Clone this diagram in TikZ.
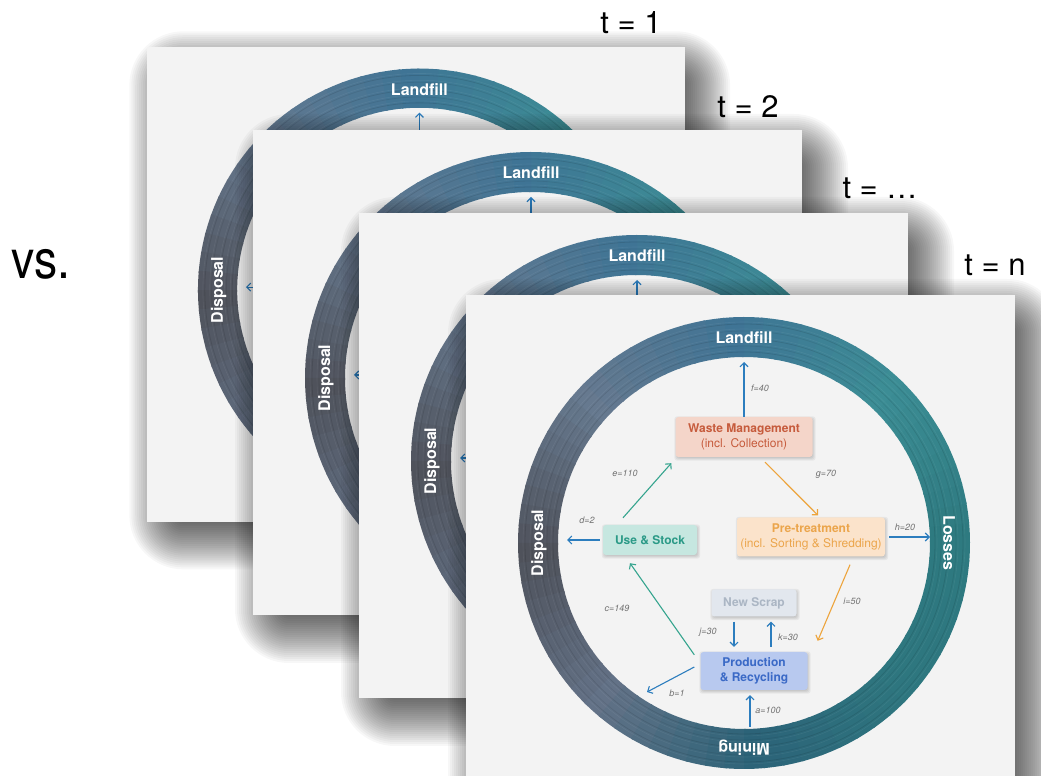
\documentclass[tikz,border=0pt]{standalone}
\usepackage{fontspec}
\usepackage{graphicx}
\setmainfont{TeX Gyre Heros}
\usetikzlibrary{arrows.meta}

\definecolor{panelbg}{HTML}{F3F3F3}
\definecolor{flowblue}{HTML}{2C7DBE}
\definecolor{flowteal}{HTML}{35A48E}
\definecolor{floworange}{HTML}{EDA43C}
\definecolor{lblgray}{HTML}{707070}
\definecolor{wmfill}{HTML}{F4D5C9}
\definecolor{wmtext}{HTML}{C65B3C}
\definecolor{ptfill}{HTML}{FBE3CB}
\definecolor{pttext}{HTML}{EBA54B}
\definecolor{usfill}{HTML}{C6E7E0}
\definecolor{ustext}{HTML}{2B9A87}
\definecolor{nsfill}{HTML}{E2E7EE}
\definecolor{nstext}{HTML}{ABB6C4}
\definecolor{prfill}{HTML}{B8C9EF}
\definecolor{prtext}{HTML}{3A69C6}
% ring tones, counter-clockwise from the right
\definecolor{ringA}{HTML}{2E7A80}
\definecolor{ringB}{HTML}{3C8D95}
\definecolor{ringC}{HTML}{3F7495}
\definecolor{ringD}{HTML}{66798F}
\definecolor{ringE}{HTML}{4F525B}
\definecolor{ringF}{HTML}{637287}
\definecolor{ringG}{HTML}{2C6378}
\definecolor{ringH}{HTML}{2E767F}

\tikzset{
  x=1pt, y=1pt,
  flowbox/.style={rounded corners=3pt, align=center, inner sep=2pt,
      font=\fontsize{12}{15}\selectfont},
  flow/.style={line width=1.1pt, -{Straight Barb[length=4pt,width=8pt]}},
  qty/.style={font=\fontsize{9}{10}\selectfont\itshape, text=lblgray, inner sep=0pt},
  ringlabel/.style={text=white, font=\fontsize{16}{18}\selectfont\bfseries, inner sep=0pt},
  tlabel/.style={font=\fontsize{31}{34}\selectfont, inner sep=0pt, anchor=base},
}

% soft drop shadow of a slide (549 x 485), built from stacked translucent layers
\newcommand{\slideshadow}{%
  \foreach \d in {-20,-18,...,32}{
    \pgfmathsetmacro{\rc}{max(1,\d+22)}
    \fill[black, opacity=0.03, rounded corners=\rc pt]
      (14-\d,-16+\d) rectangle (563+\d,-501-\d);
  }
}

% soft shadow under a stage box
\newcommand{\boxshadow}[1]{%
  \foreach \d in {-1,0,...,2}{
    \fill[black, opacity=0.05, rounded corners=3pt]
      ([xshift=1pt-\d pt, yshift=-1.5pt+\d pt]#1.north west)
      rectangle ([xshift=1pt+\d pt, yshift=-1.5pt-\d pt]#1.south east);
  }
}

% one slide of the material cycle; #1 prefixes the node names
\newcommand{\cycleslide}[1]{%
  \slideshadow
  \fill[panelbg] (0,0) rectangle (549,-485);
  % the ring of sinks and sources
  \begin{scope}[shift={(278,-248)}]
    \foreach \sa/\ca/\cb in {0/ringA/ringB, 45/ringB/ringC, 90/ringC/ringD, 135/ringD/ringE,
                              180/ringE/ringF, 225/ringF/ringG, 270/ringG/ringH, 315/ringH/ringA}{
      \foreach \k in {0,...,8}{
        \pgfmathsetmacro{\st}{\sa+5*\k}
        \pgfmathsetmacro{\en}{\st+5.6}
        \pgfmathsetmacro{\pc}{100-100*\k/9}
        \fill[\ca!\pc!\cb] (\st:186) arc[start angle=\st, end angle=\en, radius=186]
          -- (\en:226) arc[start angle=\en, end angle=\st, radius=226] -- cycle;
      }
    }
    \foreach \r/\op in {191/0.10, 197/0.07, 204/0.10, 212/0.07, 219/0.10}{
      \draw[black, opacity=\op, line width=0.8pt] (0,0) circle[radius=\r];
      \draw[white, opacity=0.06, line width=0.6pt] (0,0) circle[radius=\r+2];
    }
    \node[ringlabel] (#1landfill) at (90:205) {Landfill};
    \node[ringlabel, rotate=90] (#1disposal) at (180:205) {Disposal};
    \node[ringlabel, rotate=-90] (#1losses) at (0:205) {Losses};
    \node[ringlabel, rotate=180] (#1mining) at (270:205) {Mining};
  \end{scope}
  % stages
  \node[flowbox, minimum width=137pt, minimum height=40pt] (#1wm) at (278,-142) {};
  \node[flowbox, minimum width=148pt, minimum height=39pt] (#1pt) at (345,-242) {};
  \node[flowbox, minimum width=94pt, minimum height=30pt] (#1us) at (184,-245) {};
  \node[flowbox, minimum width=85pt, minimum height=27pt] (#1ns) at (288,-308) {};
  \node[flowbox, minimum width=107pt, minimum height=38pt] (#1pr) at (288,-376) {};
  \boxshadow{#1wm}\boxshadow{#1pt}\boxshadow{#1us}\boxshadow{#1ns}\boxshadow{#1pr}
  \node[flowbox, fill=wmfill, text=wmtext, minimum width=137pt, minimum height=40pt]
    at (#1wm) {\textbf{Waste Management}\\(incl. Collection)};
  \node[flowbox, fill=ptfill, text=pttext, minimum width=148pt, minimum height=39pt]
    at (#1pt) {\textbf{Pre-treatment}\\(incl. Sorting \& Shredding)};
  \node[flowbox, fill=usfill, text=ustext, minimum width=94pt, minimum height=30pt]
    at (#1us) {\textbf{Use \& Stock}};
  \node[flowbox, fill=nsfill, text=nstext, minimum width=85pt, minimum height=27pt]
    at (#1ns) {\textbf{New Scrap}};
  \node[flowbox, fill=prfill, text=prtext, minimum width=107pt, minimum height=38pt]
    at (#1pr) {\textbf{Production}\\\textbf{\& Recycling}};
  % free ends of the flows at the ring
  \coordinate (#1fend) at (278,-67);
  \coordinate (#1dend) at (101,-245);
  \coordinate (#1hend) at (464,-242);
  \coordinate (#1bend) at (181,-397);
  \coordinate (#1astart) at (284,-432);
  % flows
  \draw[flow, draw=flowblue] (#1wm.north) -- (#1fend);
  \draw[flow, draw=floworange] ([xshift=21pt,yshift=-5pt]#1wm.south) -- ([xshift=7pt,yshift=2pt]#1pt.north);
  \draw[flow, draw=flowblue] ([xshift=4pt]#1pt.east) -- (#1hend);
  \draw[flow, draw=floworange] ([xshift=39pt,yshift=-8pt]#1pt.south) -- ([xshift=10pt,yshift=11pt]#1pr.north east);
  \draw[flow, draw=flowteal] ([xshift=-27pt,yshift=7pt]#1us.north) -- ([xshift=-4pt,yshift=-6pt]#1wm.south west);
  \draw[flow, draw=flowblue] ([xshift=-3pt]#1us.west) -- (#1dend);
  \draw[flow, draw=flowteal] ([xshift=-6pt,yshift=-3pt]#1pr.north west) -- ([xshift=-20pt,yshift=-8pt]#1us.south);
  \draw[flow, draw=flowblue] ([xshift=-20pt,yshift=-5pt]#1ns.south) -- ([xshift=-20pt,yshift=5pt]#1pr.north);
  \draw[flow, draw=flowblue] ([xshift=17pt,yshift=5pt]#1pr.north) -- ([xshift=17pt,yshift=-5pt]#1ns.south);
  \draw[flow, draw=flowblue] ([xshift=-6pt,yshift=4pt]#1pr.west) -- (#1bend);
  \draw[flow, draw=flowblue] (#1astart) -- ([xshift=-4pt,yshift=-5pt]#1pr.south);
  % quantities
  \node[qty] (#1qf) at (294,-93) {f=40};
  \node[qty] (#1qg) at (360,-179) {g=70};
  \node[qty] (#1qh) at (439,-232) {h=20};
  \node[qty] (#1qi) at (386,-306) {i=50};
  \node[qty] (#1qe) at (159,-178) {e=110};
  \node[qty] (#1qd) at (121,-225) {d=2};
  \node[qty] (#1qc) at (151,-313) {c=149};
  \node[qty] (#1qj) at (242,-337) {j=30};
  \node[qty] (#1qk) at (322,-342) {k=30};
  \node[qty] (#1qb) at (211,-398) {b=1};
  \node[qty] (#1qa) at (302,-415) {a=100};
}

\begin{document}
\begin{tikzpicture}
  \useasboundingbox (0,0) rectangle (1041,776);
  \fill[white] (0,0) rectangle (1041,776);

  \begin{scope}[shift={(147,729)}, scale=0.98]\cycleslide{pa}\end{scope}
  \begin{scope}[shift={(253,646)}]\cycleslide{pb}\end{scope}
  \begin{scope}[shift={(359,563)}]\cycleslide{pc}\end{scope}
  \begin{scope}[shift={(466,481)}]\cycleslide{pd}\end{scope}

  \node[tlabel] (t1) at (631,742) {t = 1};
  \node[tlabel] (t2) at (748,658) {t = 2};
  \node[tlabel] (t3) at (880,577) {t = …};
  \node[tlabel] (tn) at (995,500) {t = n};
  \node[font=\fontsize{54}{60}\selectfont, inner sep=0pt, anchor=base] (vs) at (41,497) {\scalebox{0.86}[1]{vs.}};
\end{tikzpicture}
\end{document}
